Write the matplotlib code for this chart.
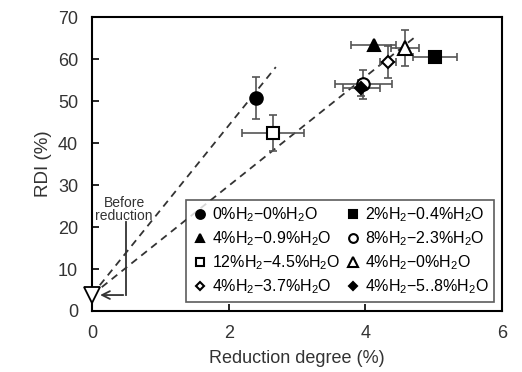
import matplotlib
matplotlib.use("Agg")
import matplotlib.pyplot as plt

plt.rcParams['font.family'] = ['Liberation Sans', 'DejaVu Sans']
plt.rcParams['mathtext.fontset'] = 'custom'
plt.rcParams['mathtext.rm'] = 'Liberation Sans'

labels = ["0%H$_2$\u22120%H$_2$O", "2%H$_2$\u22120.4%H$_2$O", "4%H$_2$\u22120.9%H$_2$O",
          "8%H$_2$\u22122.3%H$_2$O", "12%H$_2$\u22124.5%H$_2$O", "4%H$_2$\u22120%H$_2$O",
          "4%H$_2$\u22123.7%H$_2$O", "4%H$_2$\u22125..8%H$_2$O"]
x_vals = [2.40, 5.02, 4.12, 3.97, 2.65, 4.58, 4.33, 3.94]
y_vals = [50.7, 60.5, 63.4, 54.0, 42.3, 62.6, 59.3, 53.1]
x_err = [0.0, 0.32, 0.33, 0.42, 0.45, 0.20, 0.12, 0.27]
y_err = [5.0, 0.0, 0.0, 3.5, 4.3, 4.3, 3.7, 2.0]
markers = ['o', 's', '^', 'o', 's', '^', 'D', 'D']
filled = [True, True, True, False, False, False, False, True]
sizes = [9, 9, 9, 9, 9, 10, 6.5, 6.5]

before_x = [0.0]
before_y = [3.8]
line1_x = [0.0, 2.69]
line1_y = [3.8, 58.1]
line2_x = [0.0, 4.76]
line2_y = [3.8, 65.7]

fig = plt.figure(figsize=(5.22, 3.72), dpi=100)
ax = fig.add_axes([0.176, 0.164, 0.786, 0.79])

ax.plot(line1_x, line1_y, linestyle=(0, (4, 3)), color='#333333', lw=1.3, zorder=1)
ax.plot(line2_x, line2_y, linestyle=(0, (4, 3)), color='#333333', lw=1.3, zorder=1)

handles = []
for i in range(len(labels)):
    ax.errorbar(x_vals[i], y_vals[i], xerr=x_err[i] if x_err[i] else None,
                yerr=y_err[i] if y_err[i] else None, fmt='none',
                ecolor='#555555', elinewidth=1.2, capsize=3, capthick=1.2, zorder=2)
    h, = ax.plot(x_vals[i], y_vals[i], marker=markers[i], markersize=sizes[i],
                 markerfacecolor='black' if filled[i] else 'white',
                 markeredgecolor='black', markeredgewidth=1.5, linestyle='none',
                 zorder=3, label=labels[i])
    handles.append(h)

ax.plot(before_x, before_y, marker='v', markersize=11, markerfacecolor='white',
        markeredgecolor='black', markeredgewidth=1.3, linestyle='none', zorder=4,
        clip_on=False)

# annotation bracket
ax.plot([0.5, 0.5], [21.2, 3.8], color='#333333', lw=1.3)
ax.annotate('', xy=(0.08, 3.8), xytext=(0.5, 3.8),
            arrowprops=dict(arrowstyle='->', color='#333333', lw=1.3, mutation_scale=14))
ax.text(0.47, 24.2, 'Before\nreduction', fontsize=10, ha='center', va='center',
        linespacing=0.85, color='#333333')

ax.set_xlim(0, 6)
ax.set_ylim(0, 70)
ax.set_xticks([0, 2, 4, 6])
ax.set_yticks(range(0, 71, 10))
ax.tick_params(direction='in', labelsize=13, length=5, width=1.2, pad=10,
               labelcolor='#333333')
for s in ax.spines.values():
    s.set_linewidth(1.5)
ax.set_xlabel('Reduction degree (%)', fontsize=13, color='#333333', labelpad=6)
ax.set_ylabel('RDI (%)', fontsize=13.5, color='#333333', labelpad=4)

order = [0, 2, 4, 6, 1, 3, 5, 7]
leg = ax.legend([handles[i] for i in order], [labels[i] for i in order], ncol=2,
                loc='lower right', bbox_to_anchor=(0.98, 0.031), borderaxespad=0,
                fontsize=11.5,
                frameon=True, fancybox=False, edgecolor='#333333',
                handletextpad=0.15, columnspacing=0.3, borderpad=0.35,
                labelspacing=0.33, handlelength=1.1, markerscale=0.7)
leg.get_frame().set_linewidth(1.2)

fig.savefig('out.png', dpi=100)
